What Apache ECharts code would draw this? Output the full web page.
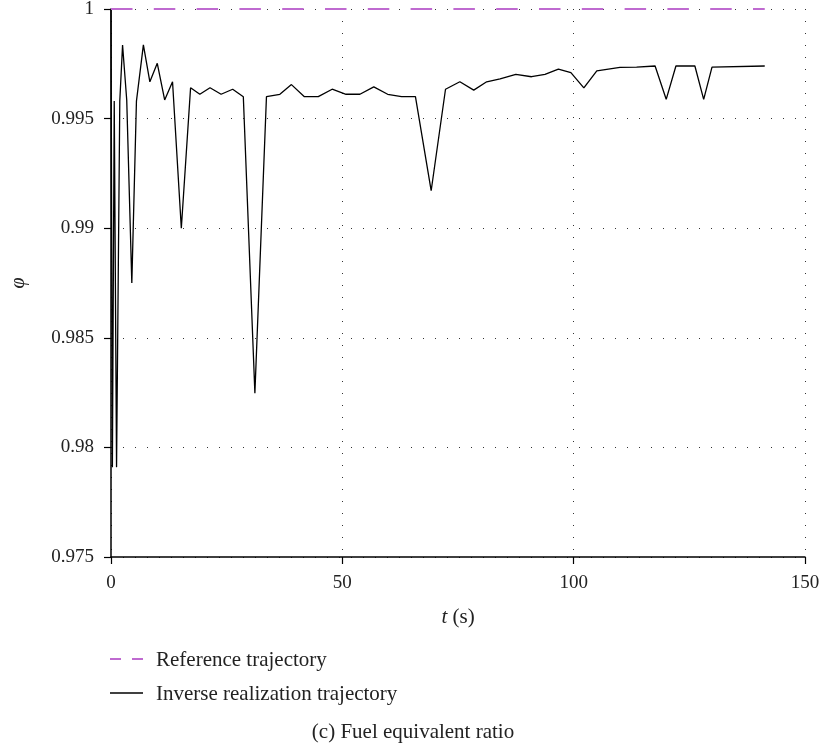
<!DOCTYPE html>
<html>
<head>
<meta charset="utf-8">
<script src="https://cdn.jsdelivr.net/npm/echarts@6/dist/echarts.min.js"></script>
<style>
  html, body { margin: 0; padding: 0; background: #fff; }
  #chart { width: 821px; height: 745px; }
</style>
</head>
<body>
<div id="chart"></div>
<script>
// Time samples (s) and fuel equivalent ratio of the inverse realization trajectory
var times = [0, 0.3, 0.7, 1.2, 1.9, 2.5, 3.4, 4.5, 5.5, 7.0, 8.4, 10.0, 11.6, 13.3, 15.2,
  17.2, 19.2, 21.4, 23.8, 26.3, 28.6, 31.1, 33.6, 36.5, 39.0, 41.8, 44.8, 47.8, 50.8,
  53.8, 56.8, 59.8, 62.8, 65.8, 69.2, 72.3, 75.4, 78.4, 81.2, 84.1, 87.5, 90.9, 93.8,
  96.7, 99.4, 102.2, 105.0, 110.0, 113.6, 117.6, 120.0, 122.1, 126.2, 128.1, 129.9, 141.3];
var phiInverse = [1, 0.9791, 0.9958, 0.9791, 0.9958, 0.99836, 0.99585, 0.9875, 0.9958,
  0.99836, 0.99668, 0.99752, 0.99585, 0.99668, 0.9900, 0.99641, 0.99611, 0.99641, 0.99611,
  0.99634, 0.99600, 0.98247, 0.99600, 0.99611, 0.99655, 0.99600, 0.99600, 0.99634, 0.99611,
  0.99611, 0.99645, 0.99611, 0.99600, 0.99600, 0.99171, 0.99634, 0.99668, 0.99630, 0.99668,
  0.99681, 0.99702, 0.99691, 0.99702, 0.99726, 0.99710, 0.99640, 0.99718, 0.99734, 0.99735,
  0.99740, 0.99588, 0.99740, 0.99740, 0.99588, 0.99735, 0.99740];

// Reference trajectory (constant)
var refTimes = [0, 141.3];
var phiReference = [1, 1];

// Axis ranges
var xTicks = [0, 50, 100, 150];
var yMin = 0.975, yMax = 1, yStep = 0.005;

var seriesNames = ['Reference trajectory', 'Inverse realization trajectory'];
var captionText = '(c) Fuel equivalent ratio';

function pairs(xs, ys) {
  return xs.map(function (x, i) { return [x, ys[i]]; });
}

var FONT = '"Liberation Serif", "DejaVu Serif", serif';
var PURPLE = '#bf6ad0';
var TEXT = '#222';

var chart = echarts.init(document.getElementById('chart'), null, { renderer: 'canvas' });

var gridLine = { show: true, lineStyle: { color: '#333', width: 1, type: [1, 11] } };

// Legend drawn as line samples with labels beneath the x-axis title
var legendX = 110, legendRows = [659, 693];
var legendGraphics = [];
[
  { color: PURPLE, width: 2, dash: [11, 11] },
  { color: '#000', width: 1.5, dash: null }
].forEach(function (s, i) {
  legendGraphics.push({
    type: 'line',
    shape: { x1: legendX, y1: legendRows[i], x2: legendX + 33, y2: legendRows[i] },
    style: { stroke: s.color, lineWidth: s.width, lineDash: s.dash }
  });
  legendGraphics.push({
    type: 'text',
    x: legendX + 46,
    y: legendRows[i] + 1,
    style: { text: seriesNames[i], font: '21px ' + FONT, fill: TEXT, verticalAlign: 'middle' }
  });
});

chart.setOption({
  animation: false,
  backgroundColor: '#fff',
  grid: { left: 111, right: 16, top: 9, bottom: 188, containLabel: false, outerBoundsMode: 'none' },
  xAxis: {
    type: 'value',
    min: xTicks[0],
    max: xTicks[xTicks.length - 1],
    interval: xTicks[1] - xTicks[0],
    name: '{i|t} (s)',
    nameLocation: 'middle',
    nameGap: 50,
    nameTextStyle: {
      fontFamily: FONT, fontSize: 21, color: TEXT,
      rich: { i: { fontFamily: FONT, fontSize: 21, fontStyle: 'italic', color: TEXT } }
    },
    axisLine: { show: true, onZero: false, lineStyle: { color: '#000', width: 1.5 } },
    axisTick: { show: true, inside: false, length: 7, lineStyle: { color: '#000', width: 1.2 } },
    axisLabel: { fontFamily: FONT, fontSize: 19, color: TEXT, margin: 17 },
    splitLine: gridLine
  },
  yAxis: {
    type: 'value',
    min: yMin,
    max: yMax,
    interval: yStep,
    name: 'φ',
    nameLocation: 'middle',
    nameGap: 82,
    nameRotate: 90,
    nameTextStyle: { fontFamily: FONT, fontSize: 20, fontStyle: 'italic', color: TEXT },
    axisLine: { show: true, onZero: false, lineStyle: { color: '#000', width: 1.5 } },
    axisTick: { show: true, inside: false, length: 7, lineStyle: { color: '#000', width: 1.2 } },
    axisLabel: {
      fontFamily: FONT, fontSize: 19, color: TEXT, margin: 17,
      formatter: function (v) { return String(+v.toFixed(3)); }
    },
    splitLine: gridLine
  },
  series: [
    {
      name: seriesNames[0],
      type: 'line',
      data: pairs(refTimes, phiReference),
      showSymbol: false,
      symbol: 'none',
      lineStyle: { color: PURPLE, width: 2, type: [21.5, 21.3] },
      itemStyle: { color: PURPLE },
      z: 3
    },
    {
      name: seriesNames[1],
      type: 'line',
      data: pairs(times, phiInverse),
      showSymbol: false,
      symbol: 'none',
      lineStyle: { color: '#000', width: 1.3 },
      itemStyle: { color: '#000' },
      z: 2
    }
  ],
  graphic: legendGraphics.concat([
    {
      type: 'text',
      x: 413,
      y: 732,
      style: { text: captionText, font: '21px ' + FONT, fill: TEXT, align: 'center', verticalAlign: 'middle' }
    }
  ])
});
</script>
</body>
</html>
